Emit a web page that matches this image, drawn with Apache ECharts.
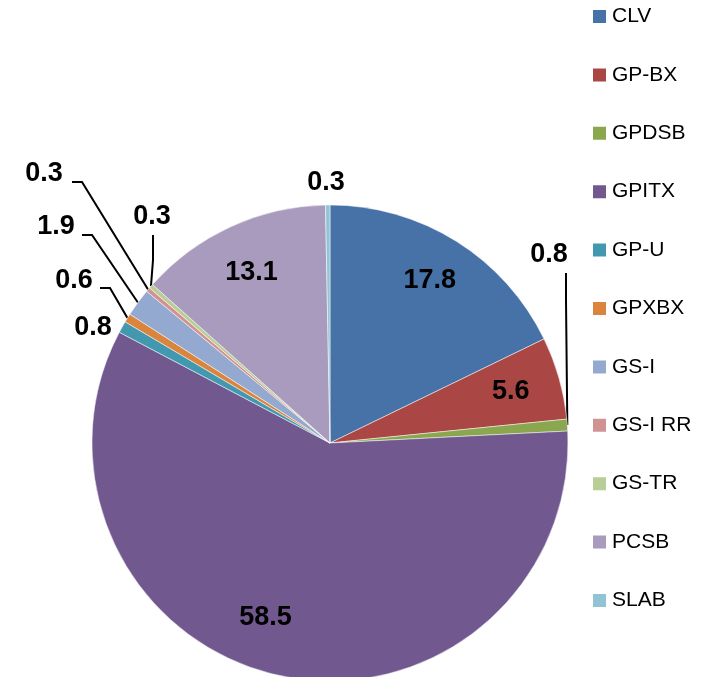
<!DOCTYPE html>
<html>
<head>
<meta charset="utf-8">
<script src="https://cdn.jsdelivr.net/npm/echarts@6/dist/echarts.min.js"></script>
<style>
html,body{margin:0;padding:0;background:#fff;}
#chart{width:708px;height:677px;}
</style>
</head>
<body>
<div id="chart"></div>
<script>
const categories = ['CLV', 'GP-BX', 'GPDSB', 'GPITX', 'GP-U', 'GPXBX', 'GS-I', 'GS-I RR', 'GS-TR', 'PCSB', 'SLAB'];
const values = [17.8, 5.6, 0.8, 58.5, 0.8, 0.6, 1.9, 0.3, 0.3, 13.1, 0.3];
const colors = ['#4672A8', '#AA4744', '#8AA64F', '#71588F', '#4198AF', '#DB843D', '#93A9CF', '#D19392', '#B9CD96', '#A99BBD', '#92C3D4'];
const insideNames = ['CLV', 'GP-BX', 'GPITX', 'PCSB'];

// label placement for small slices (outside labels)
const outsidePlacement = {
  'GPDSB':   { x: 549, y: 255, line: [[566, 300], [566, 273]] },
  'GP-U':    { x: 93,  y: 328 },
  'GPXBX':   { x: 74,  y: 281, line: [[110, 288], [100, 288]] },
  'GS-I':    { x: 56,  y: 227, line: [[92, 235], [82, 235]] },
  'GS-I RR': { x: 44,  y: 174, line: [[82, 182], [72, 182]] },
  'GS-TR':   { x: 152, y: 217, line: [[153, 260], [153, 235]] },
  'SLAB':    { x: 326, y: 183 }
};
// small nudges for inside labels (best-fit placement)
const insideNudge = { 'GPITX': [-24, -9], 'CLV': [0, -3] };

const labelFont = { fontFamily: 'Liberation Sans, Arial, sans-serif', fontWeight: 'bold', fontSize: 27, color: '#000' };

const mainData = categories.map((n, i) => {
  const hasLine = outsidePlacement[n] && outsidePlacement[n].line;
  return {
    name: n,
    value: values[i],
    itemStyle: { color: colors[i] },
    label: { show: !insideNames.includes(n) },
    labelLine: { show: !!hasLine }
  };
});

const labelData = categories.map((n, i) => ({
  name: n,
  value: values[i],
  label: { show: insideNames.includes(n) }
}));

const chart = echarts.init(document.getElementById('chart'), null, { renderer: 'canvas' });
chart.setOption({
  animation: false,
  color: colors,
  legend: {
    orient: 'vertical',
    left: 591,
    top: 6,
    padding: 0,
    icon: 'rect',
    itemWidth: 15,
    itemHeight: 15,
    itemGap: 37.4,
    data: categories,
    selectedMode: false,
    textStyle: { fontFamily: 'Liberation Sans, Arial, sans-serif', fontSize: 21, color: '#000', lineHeight: 21 }
  },
  series: [
    {
      type: 'pie',
      center: [330, 443],
      radius: [0, 238],
      startAngle: 90,
      clockwise: true,
      avoidLabelOverlap: false,
      silent: true,
      itemStyle: { borderColor: '#ffffff', borderWidth: 0.5 },
      label: Object.assign({ position: 'outside', formatter: p => p.value.toFixed(1) }, labelFont),
      labelLine: { show: true, length: 10, length2: 10, lineStyle: { color: '#000', width: 2 } },
      labelLayout: function (params) {
        const name = categories[params.dataIndex];
        const p = outsidePlacement[name];
        if (!p) return;
        const res = { x: p.x, y: p.y, align: 'center', verticalAlign: 'middle' };
        if (p.line && params.labelLinePoints) {
          res.labelLinePoints = [params.labelLinePoints[0], p.line[0], p.line[1]];
        }
        return res;
      },
      data: mainData
    },
    {
      type: 'pie',
      center: [330, 443],
      radius: [132, 238],
      startAngle: 90,
      clockwise: true,
      silent: true,
      itemStyle: { color: 'rgba(0,0,0,0)' },
      label: Object.assign({ position: 'inside', formatter: p => p.value.toFixed(1) }, labelFont),
      labelLine: { show: false },
      labelLayout: function (params) {
        const d = insideNudge[categories[params.dataIndex]];
        if (!d) return;
        return { dx: d[0], dy: d[1] };
      },
      data: labelData
    }
  ]
});
</script>
</body>
</html>
